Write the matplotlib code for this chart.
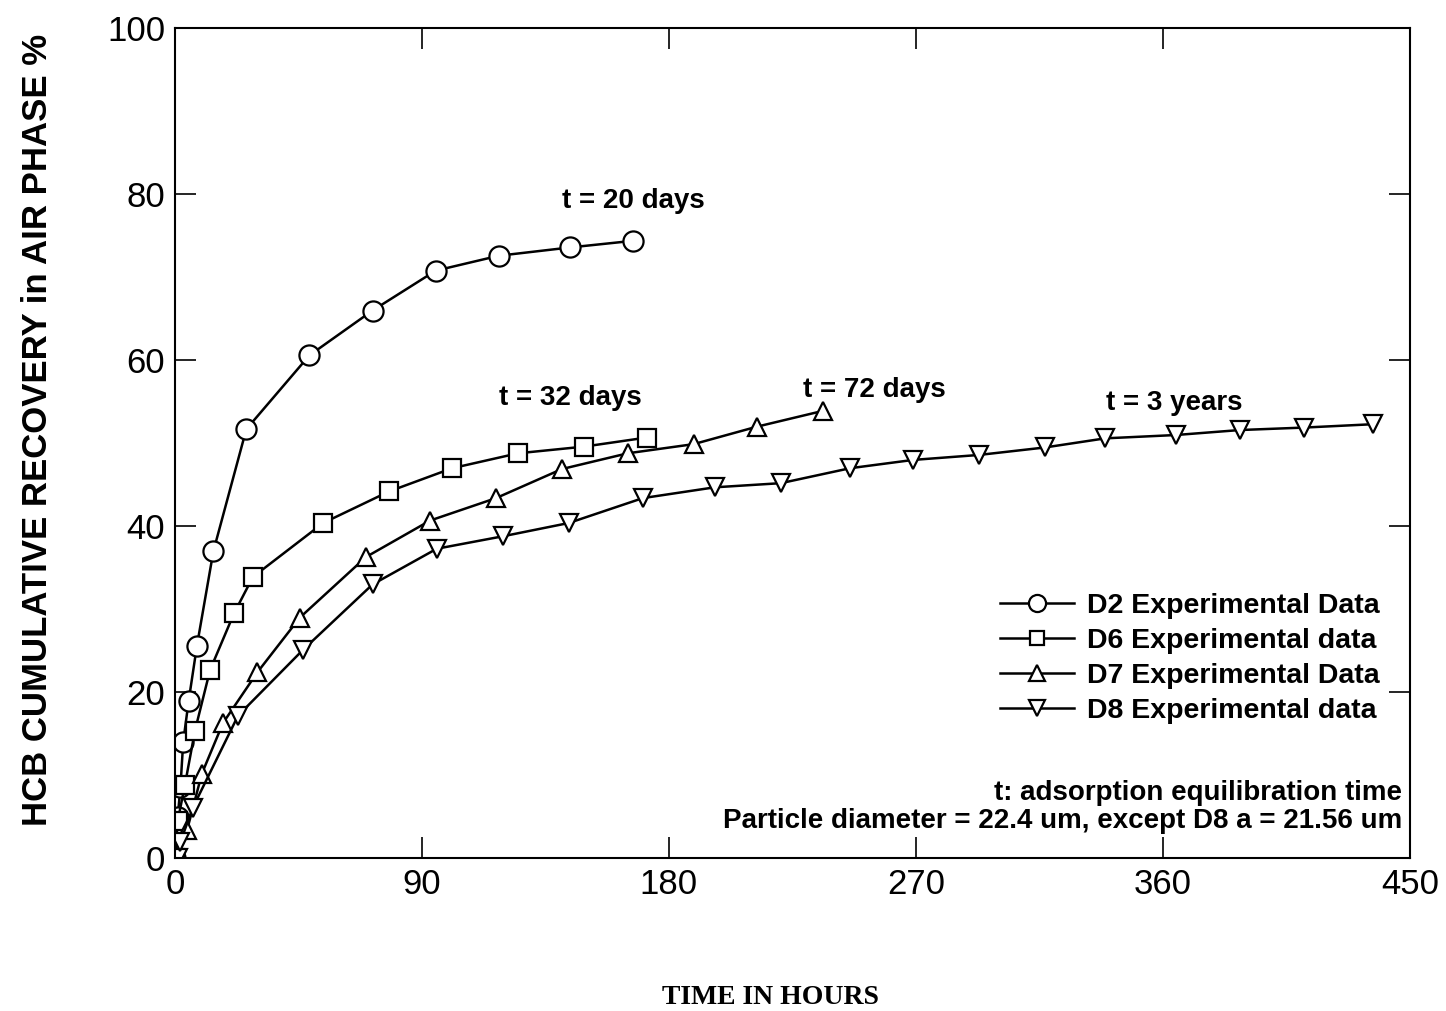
import matplotlib.pyplot as plt

# D2 (t = 20 days)
d2_t = [0, 1, 2, 3, 5, 8, 14, 26, 49, 72, 95, 118, 144, 167]
d2_y = [0, 5, 8.6, 14, 19, 25.6, 37, 51.7, 60.6, 66, 70.8, 72.6, 73.6, 74.4]
# D6 (t = 32 days)
d6_t = [0, 1, 3.6, 7.3, 12.8, 21.5, 28.4, 54, 78, 101, 125, 149, 172]
d6_y = [0, 4.5, 8.8, 15.4, 22.7, 29.5, 33.9, 40.4, 44.2, 47, 48.8, 49.6, 50.7]
# D7 (t = 72 days)
d7_t = [0.7, 4.4, 9.8, 17.5, 30, 45.5, 69.6, 93, 117, 141, 165, 189, 212, 236]
d7_y = [0, 3.4, 10.2, 16.3, 22.4, 29, 36.3, 40.7, 43.4, 46.9, 48.8, 49.9, 52, 53.9]
# D8 (t = 3 years)
d8_t = [1, 2, 6.5, 23, 46.6, 72, 95.4, 119.5, 143.5, 170.5, 196.7, 220.8, 246,
        269, 293, 317, 339, 364.7, 388, 411.6, 436.4]
d8_y = [0, 2, 6.1, 17.2, 25.1, 33, 37.3, 38.8, 40.4, 43.4, 44.7, 45.2, 47,
        48, 48.6, 49.5, 50.6, 51, 51.6, 51.9, 52.3]

labels = ["D2 Experimental Data", "D6 Experimental data",
          "D7 Experimental Data", "D8 Experimental data"]
notes = [("t = 20 days", 167, 79.2), ("t = 32 days", 144, 55.5),
         ("t = 72 days", 255, 56.4), ("t = 3 years", 364, 54.9)]

plt.rcParams['font.family'] = ['Liberation Sans', 'DejaVu Sans']

fig = plt.figure(figsize=(14.46, 10.11), dpi=100)
ax = fig.add_axes([0.121, 0.151, 0.854, 0.821])

style = dict(color='black', lw=1.8, mfc='white', mec='black', mew=1.6)
ax.plot(d2_t, d2_y, marker='o', ms=14.5, label=labels[0], **style)
ax.plot(d6_t, d6_y, marker='s', ms=12.5, label=labels[1], **style)
ax.plot(d7_t, d7_y, marker='^', ms=13.5, label=labels[2], **style)
ax.plot(d8_t, d8_y, marker='v', ms=13.5, label=labels[3], **style)

for txt, x, y in notes:
    ax.text(x, y, txt, ha='center', va='center', fontsize=20, fontweight='bold')

ax.text(0.9935, 0.062, "t: adsorption equilibration time\n"
        "Particle diameter = 22.4 um, except D8 a = 21.56 um",
        transform=ax.transAxes, ha='right', va='center', fontsize=20,
        fontweight='bold', linespacing=1.1)

ax.set_xlim(0, 450)
ax.set_ylim(0, 100)
ax.set_xticks([0, 90, 180, 270, 360, 450])
ax.set_yticks([0, 20, 40, 60, 80, 100])
ax.tick_params(direction='in', length=15, width=1.2, top=True, right=True,
               labelsize=25, pad=7)
for s in ax.spines.values():
    s.set_linewidth(1.5)

fig.text(0.026, 1 - 430 / 1011, "HCB CUMULATIVE RECOVERY in AIR PHASE %",
         rotation=90, ha='center', va='center', fontsize=25, fontweight='bold')
fig.text(770 / 1446, 1 - 998 / 1011, "TIME IN HOURS", ha='center', va='center',
         fontsize=20, fontweight='bold', family=['Liberation Serif', 'DejaVu Serif'])

leg = ax.legend(loc='upper left', bbox_to_anchor=(0.668, 0.32), frameon=False,
                prop={'size': 20.5, 'weight': 'bold'}, handlelength=2.6,
                handletextpad=0.45, labelspacing=0.32, borderpad=0,
                borderaxespad=0, markerscale=0.85)

fig.savefig("out.png", dpi=100)
